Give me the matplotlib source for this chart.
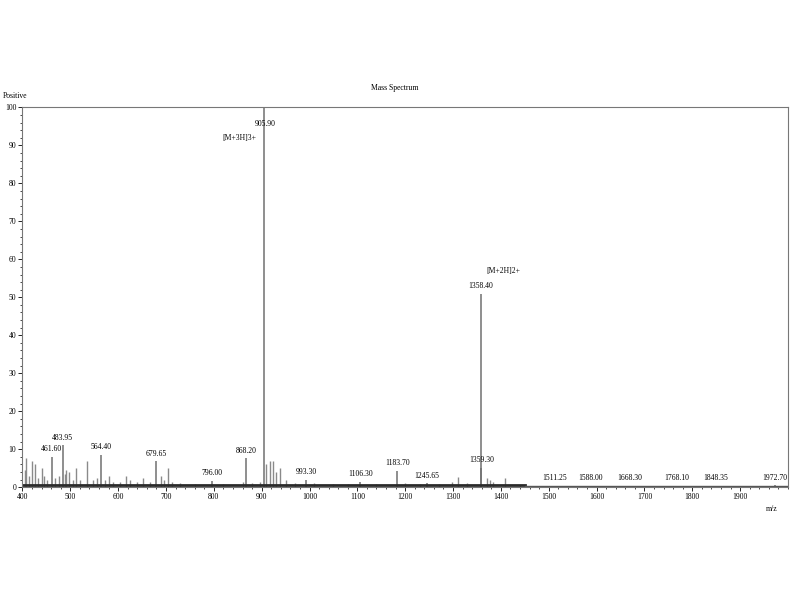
import numpy as np
import matplotlib.pyplot as plt
from matplotlib.ticker import MultipleLocator

plt.rcParams['font.family'] = ['Liberation Serif', 'DejaVu Serif']

# labelled peaks (m/z, relative intensity)
label_mz = [461.60, 483.95, 564.40, 679.65, 796.00, 868.20, 905.90, 993.30,
            1106.30, 1183.70, 1245.65, 1358.40, 1359.30, 1511.25, 1588.00,
            1668.30, 1768.10, 1848.35, 1972.70]
label_int = [8.0, 11.0, 8.4, 6.8, 1.6, 7.6, 100.0, 2.0,
             1.5, 4.2, 1.0, 51.0, 5.0, 0.4, 0.4,
             0.4, 0.4, 0.4, 0.5]

# unlabelled peaks
other_mz = [405, 408, 413, 421, 427, 433, 440, 446, 452, 468, 476, 488, 492,
            498, 505, 513, 520, 536, 548, 556, 572, 582, 590, 603, 617, 625,
            640, 651, 667, 690, 696, 704, 712, 730, 760, 820, 860, 880, 897,
            910, 917, 923, 930, 938, 950, 970, 1010, 1050, 1080, 1140, 1200,
            1230, 1270, 1297, 1310, 1330, 1370, 1377, 1383, 1408, 1440]
other_int = [4.5, 7.6, 3.0, 7.0, 6.0, 2.5, 5.0, 3.0, 2.0, 2.5, 3.0, 3.5, 4.5,
             4.0, 2.0, 5.0, 2.0, 7.0, 2.0, 2.5, 2.0, 3.0, 1.5, 1.5, 3.0, 2.0,
             1.5, 2.5, 1.5, 3.0, 2.0, 5.0, 1.5, 1.0, 0.8, 0.8, 1.5, 1.2, 1.5,
             6.0, 7.0, 7.0, 4.0, 5.0, 2.0, 1.2, 1.0, 0.8, 0.8, 0.8, 1.0,
             0.8, 0.8, 1.5, 2.6, 1.0, 2.3, 2.0, 1.5, 2.5, 0.6]

fig = plt.figure(figsize=(8, 6), dpi=100)
ax = fig.add_axes([0.028, 0.188, 0.957, 0.633])

ax.vlines(other_mz, 0, other_int, colors='#8a8a8a', linewidth=1.0)
ax.vlines(label_mz, 0, label_int, colors='#707070', linewidth=1.1)
# baseline noise band
ax.plot([400, 1450], [0.5, 0.5], color='#2a2a2a', linewidth=2.0)
ax.plot([1450, 2000], [0.3, 0.3], color='#555555', linewidth=1.0)

for mz, h in zip(label_mz, label_int):
    if mz == 905.90:
        ax.text(mz + 2, 95.5, '905.90', fontsize=5.5, ha='center', va='center')
    else:
        ax.text(mz, h + 1.0, '%.2f' % mz, fontsize=5.5, ha='center', va='bottom')

ax.text(890, 92, '[M+3H]3+', fontsize=5.5, ha='right', va='center')
ax.text(1370, 57, '[M+2H]2+', fontsize=5.5, ha='left', va='center')

ax.set_xlim(400, 2000)
ax.set_ylim(0, 100)
ax.xaxis.set_minor_locator(MultipleLocator(20))
ax.yaxis.set_major_locator(MultipleLocator(10))
ax.yaxis.set_minor_locator(MultipleLocator(2))
ax.set_xticks(np.arange(400, 2000, 100))
ax.tick_params(labelsize=5.5, length=3, width=0.6, pad=1.5)
ax.tick_params(which='minor', length=1.5, width=0.5)
for s in ax.spines.values():
    s.set_color('#777777')
    s.set_linewidth(0.8)

fig.text(0.494, 0.853, 'Mass Spectrum', fontsize=5.5, ha='center', va='center')
fig.text(0.003, 0.84, 'Positive', fontsize=5.5, ha='left', va='center')
fig.text(0.957, 0.151, 'm/z', fontsize=5.5, ha='left', va='center')

fig.savefig('out.png', dpi=100)
